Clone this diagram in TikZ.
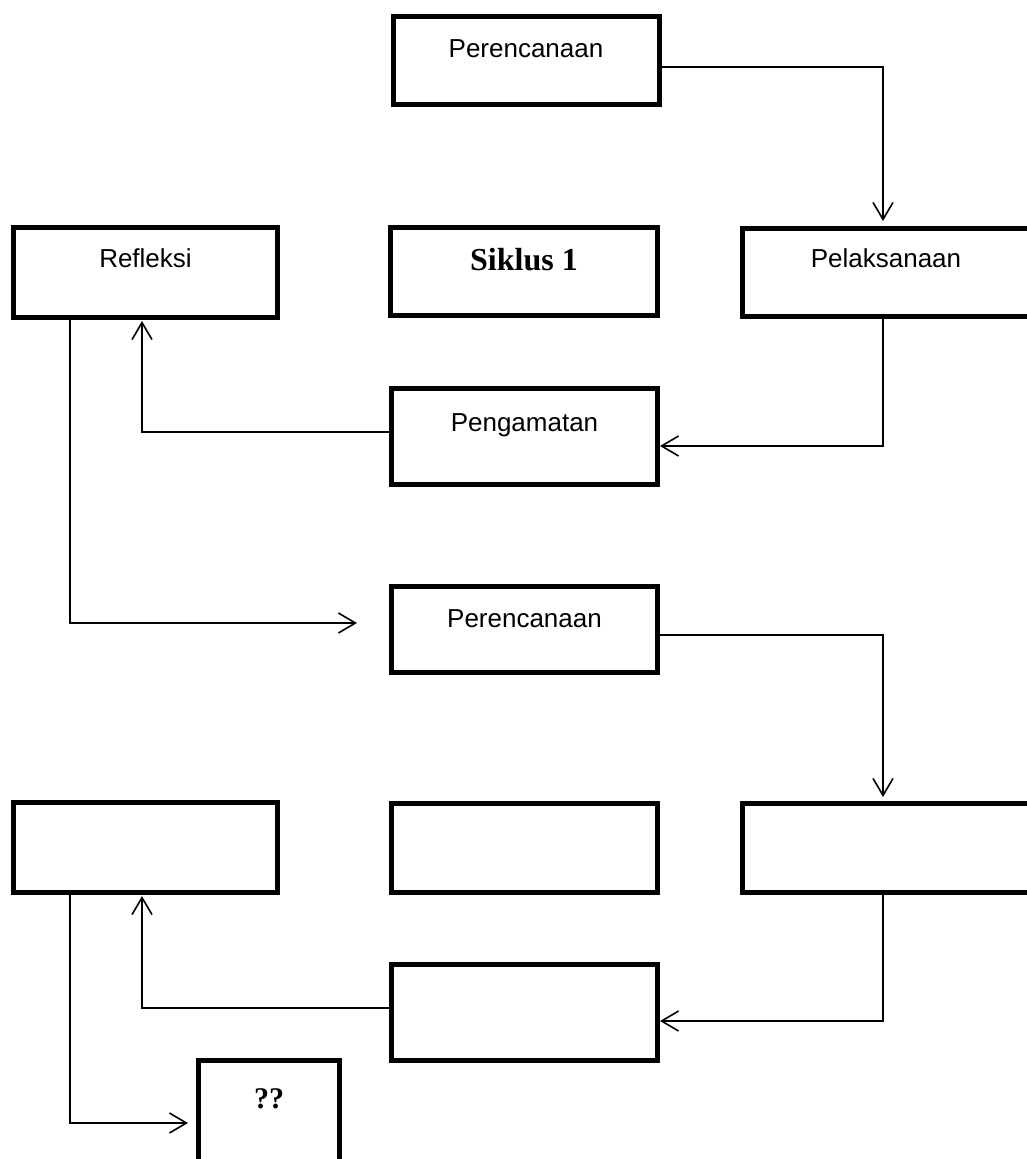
\documentclass[tikz,border=0pt]{standalone}
\usepackage{fontspec}
\setmainfont{Liberation Sans}
\newfontfamily\serifbold{Liberation Serif}
\usetikzlibrary{arrows.meta}
\begin{document}
\begin{tikzpicture}[x=1pt,y=-1pt,
  box/.style={draw, line width=5pt, inner sep=0pt},
  lbl/.style={font=\fontsize{26}{30}\selectfont, anchor=base, inner sep=0pt},
  blbl/.style={font=\serifbold\bfseries\fontsize{32}{36}\selectfont, anchor=base, inner sep=0pt},
  conn/.style={line width=1.6pt, -{Straight Barb[length=17pt,width=20pt,line width=1.6pt]}}
]
\useasboundingbox (0,0) rectangle (1027,1159);
\clip (0,0) rectangle (1027,1159);
\fill[white] (0,0) rectangle (1027,1159);

% boxes
\node[box, minimum width=266pt, minimum height=88pt] (p1)   at (526,60.5) {};
\node[box, minimum width=264pt, minimum height=90pt] (ref)  at (145.5,272.5) {};
\node[box, minimum width=267pt, minimum height=88pt] (sik)  at (524,271.5) {};
\node[box, minimum width=287pt, minimum height=88pt] (pel)  at (886,272.5) {};
\node[box, minimum width=266pt, minimum height=96pt] (peng) at (524.5,436.5) {};
\node[box, minimum width=266pt, minimum height=86pt] (p2)   at (524.5,629.5) {};
\node[box, minimum width=264pt, minimum height=90pt] (r4l)  at (145.5,847.5) {};
\node[box, minimum width=266pt, minimum height=89pt] (r4m)  at (524.5,848) {};
\node[box, minimum width=287pt, minimum height=89pt] (r4r)  at (886,848) {};
\node[box, minimum width=266pt, minimum height=96pt] (r5)   at (524.5,1012.5) {};
\node[box, minimum width=141pt, minimum height=109pt] (q)   at (269,1115) {};

% labels
\node[lbl] (p1t)   at ([yshift=-43pt]p1.north) {Perencanaan};
\node[lbl] (reft)  at ([yshift=-42pt]ref.north) {Refleksi};
\node[blbl] (sikt) at ([yshift=-45pt]sik.north) {Siklus 1};
\node[lbl] (pelt)  at ([yshift=-41pt]pel.north) {Pelaksanaan};
\node[lbl] (pengt) at ([yshift=-45pt]peng.north) {Pengamatan};
\node[lbl] (p2t)   at ([yshift=-43pt]p2.north) {Perencanaan};
\node[blbl, font=\serifbold\bfseries\fontsize{30}{34}\selectfont] (qt) at ([yshift=-50pt]q.north) {??};

% connectors
\draw[conn, shorten >=5pt] ([yshift=-6.5pt]p1.east) -| ([xshift=-3pt]pel.north);
\draw[conn] ([xshift=-3pt]pel.south) |- ([yshift=-9.5pt]peng.east);
\draw[conn, shorten >=1pt] ([yshift=4.5pt]peng.west) -| ([xshift=-3.5pt]ref.south);
\draw[conn] ([xshift=-75.5pt]ref.south) |- ([xshift=-32pt,yshift=6.5pt]p2.west);
\draw[conn, shorten >=4pt] ([yshift=-5.5pt]p2.east) -| ([xshift=-3pt]r4r.north);
\draw[conn] ([xshift=-3pt]r4r.south) |- ([yshift=-8.5pt]r5.east);
\draw[conn, shorten >=1pt] ([yshift=4.5pt]r5.west) -| ([xshift=-3.5pt]r4l.south);
\draw[conn, shorten >=8pt] ([xshift=-75.5pt]r4l.south) |- ([yshift=-8pt]q.west);
\end{tikzpicture}
\end{document}
